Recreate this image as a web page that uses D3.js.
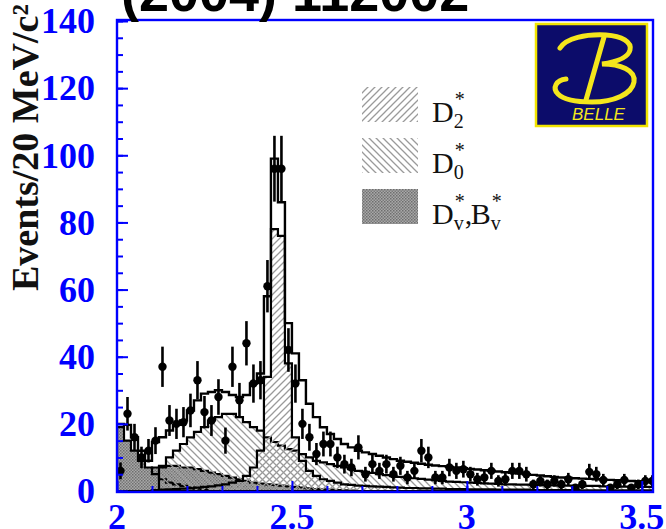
<!DOCTYPE html>
<html>
<head>
<meta charset="utf-8">
<script src="https://cdn.jsdelivr.net/npm/d3@7"></script>
<style>
  html, body { margin: 0; padding: 0; background: #fff; }
  svg { display: block; }
</style>
</head>
<body>
<svg id="chart" width="666" height="529"></svg>
<script>
// Binning: 20 MeV bins starting at 2.0 GeV
const binStart = 2.0;
const binWidth = 0.02;

// Observed events per bin
const counts = [6, 23, 16, 10, 12, 15, 37, 21, 20, 20.5, 24, 33, 23.5, 21, 28, 15, 37, 27, 44, 32,
  33, 61, 96, 96, 42, 32, 20, 16, 11, 14, 14, 10, 8, 7, 13, 5, 8, 6, 8, 5,
  7.5, 4, 6, 12, 10, 4, 4, 7, 6, 6.5, 5, 3.5, 4, 6, 3, 3.5, 6, 6, 5, 2,
  3, 2, 3, 2, 3.5, 1, 2, 5.7, 5, 3.3, 1, 2, 3.3, 1, 2, 3, 3];
// Statistical errors per bin
const errors = [2.5, 5, 4, 3.2, 3.5, 4, 6, 4.6, 4.5, 4.5, 5, 5.7, 4.8, 4.6, 5.3, 3.9, 6, 5.2, 6.6, 5.7,
  5.7, 7.8, 9.8, 9.8, 6.5, 5.7, 4.5, 4, 3.3, 3.7, 3.7, 3.2, 2.8, 2.6, 3.6, 2.2, 2.8, 2.4, 2.8, 2.2,
  2.7, 2, 2.4, 3.5, 3.2, 2, 2, 2.6, 2.4, 2.5, 2.2, 1.9, 2, 2.4, 1.7, 1.9, 2.4, 2.4, 2.2, 1.4,
  1.7, 1.4, 1.7, 1.4, 1.9, 1, 1.4, 2.4, 2.2, 1.8, 1, 1.4, 1.8, 1, 1.4, 1.7, 1.7];

// Total fit
const totalFit = [20, 19.7, 16, 12, 9, 14.6, 16, 18, 19.7, 21, 24, 27, 29, 29.5, 30, 29.5, 28.6, 28, 28.6, 32,
  35, 58, 99, 86, 50, 41, 33, 26, 22, 19, 17, 15.5, 14, 13, 12, 11.5, 11, 10.5, 10, 9.5,
  9, 8.7, 8.4, 8.1, 7.8, 7.6, 7.4, 7.2, 7, 6.8, 6.6, 6.4, 6.2, 6, 5.8, 5.6, 5.4, 5.2, 5, 4.8,
  4.6, 4.4, 4.2, 4, 3.9, 3.8, 3.7, 3.6, 3.5, 3.4, 3.3, 3.2, 3.1, 3, 2.9, 2.8, 2.7];

// D2* component
const d2Comp = [0, 0, 0, 0, 0, 0.3, 0.4, 0.5, 0.6, 0.7, 0.8, 1, 1.2, 1.4, 1.7, 2, 2.5, 3, 4.5, 7,
  12, 34, 78, 76, 38, 16, 9, 6, 4.5, 3.5, 3, 2.5, 2, 1.8, 1.6, 1.5, 1.4, 1.3, 1.2, 1.1,
  1, 0.9, 0.9, 0.8, 0.8, 0.7, 0.7, 0.6, 0.6, 0.6, 0.5, 0.5, 0.5, 0.5, 0.4, 0.4, 0.4, 0.4, 0.4, 0.3,
  0.3, 0.3, 0.3, 0.3, 0.3, 0.3, 0.2, 0.2, 0.2, 0.2, 0.2, 0.2, 0.2, 0.2, 0.2, 0.2, 0.2];

// D0* component
const d0Comp = [0, 0, 0, 0, 0, 0, 7, 10, 12, 14, 16, 17.6, 19, 21, 22, 23, 23, 22, 20.5, 19,
  18, 16, 14.6, 13.5, 12.5, 12, 11, 10, 9, 8.5, 8, 7.5, 7, 6.5, 6, 5.7, 5.4, 5, 4.7, 4.4,
  4.2, 4, 3.8, 3.6, 3.4, 3.2, 3, 2.8, 2.7, 2.6, 2.5, 2.4, 2.3, 2.2, 2.1, 2, 2, 1.9, 1.9, 1.8,
  1.8, 1.7, 1.7, 1.6, 1.6, 1.6, 1.5, 1.5, 1.5, 1.4, 1.4, 1.4, 1.3, 1.3, 1.3, 1.2, 1.2];

// D*v (threshold) component
const dvComp = [19, 15, 12, 9, 7, 5, 3.5, 2.5, 2, 1.5, 1, 0.7, 0.5, 0, 0, 0, 0, 0, 0, 0,
  0, 0, 0, 0, 0, 0, 0, 0, 0, 0, 0, 0, 0, 0, 0, 0, 0, 0, 0, 0,
  0, 0, 0, 0, 0, 0, 0, 0, 0, 0, 0, 0, 0, 0, 0, 0, 0, 0, 0, 0,
  0, 0, 0, 0, 0, 0, 0, 0, 0, 0, 0, 0, 0, 0, 0, 0, 0];

// B*v component
const bvComp = [1, 3, 4.5, 5.5, 6.5, 7, 7.5, 7.5, 7.5, 7, 7, 6.5, 6, 5.5, 5, 4.5, 4, 3.5, 3, 2.5,
  2.2, 2, 1.8, 1.6, 1.4, 1.2, 1, 0.8, 0.6, 0.5, 0.4, 0.3, 0.2, 0.1, 0, 0, 0, 0, 0, 0,
  0, 0, 0, 0, 0, 0, 0, 0, 0, 0, 0, 0, 0, 0, 0, 0, 0, 0, 0, 0,
  0, 0, 0, 0, 0, 0, 0, 0, 0, 0, 0, 0, 0, 0, 0, 0, 0];

const xTickLabels = ["2", "2.5", "3", "3.5"];
const yTickLabels = ["0", "20", "40", "60", "80", "100", "120", "140"];

const legendItems = [
  { key: "d2", syms: [{ main: "D", sub: "2", sup: "*" }] },
  { key: "d0", syms: [{ main: "D", sub: "0", sup: "*" }] },
  { key: "dv", syms: [{ main: "D", sub: "v", sup: "*" }, { main: "B", sub: "v", sup: "*" }] }
];

const svg = d3.select("#chart");
const plot = { left: 117, right: 653, top: 20, bottom: 492 };

const x = d3.scaleLinear().domain([2.0, 3.532]).range([plot.left, plot.right]);
const y = d3.scaleLinear().domain([0, 140]).range([491, 21]);

const blue = "#0000ff";

// ---------- patterns ----------
const defs = svg.append("defs");
function hatch(id, dir, color) {
  const p = defs.append("pattern").attr("id", id).attr("patternUnits", "userSpaceOnUse")
    .attr("width", 7).attr("height", 7);
  const d = dir > 0 ? "M-1,1 L1,-1 M0,7 L7,0 M6,8 L8,6" : "M-1,6 L1,8 M0,0 L7,7 M6,-1 L8,1";
  p.append("path").attr("d", d).attr("stroke", color).attr("stroke-width", 1.3).attr("fill", "none");
}
hatch("hatchD2", 1, "#9a9a9a");
hatch("hatchD0", -1, "#9a9a9a");
const grey = defs.append("pattern").attr("id", "greyFill").attr("patternUnits", "userSpaceOnUse")
  .attr("width", 3).attr("height", 3);
grey.append("rect").attr("width", 3).attr("height", 3).attr("fill", "#a8a8a8");
grey.append("rect").attr("width", 1.5).attr("height", 1.5).attr("fill", "#6e6e6e");
grey.append("rect").attr("x", 1.5).attr("y", 1.5).attr("width", 1.5).attr("height", 1.5).attr("fill", "#7a7a7a");

const clip = defs.append("clipPath").attr("id", "plotClip");
clip.append("rect").attr("x", plot.left).attr("y", plot.top)
  .attr("width", plot.right - plot.left).attr("height", plot.bottom - plot.top);

// ---------- histogram helpers ----------
function stepPath(values, closed) {
  const pts = [];
  values.forEach((v, i) => {
    const x0 = x(binStart + i * binWidth), x1 = x(binStart + (i + 1) * binWidth);
    pts.push([x0, y(v)], [x1, y(v)]);
  });
  const line = d3.line();
  if (!closed) return line(pts);
  const first = pts[0][0], last = pts[pts.length - 1][0];
  return line([[first, y(0)], ...pts, [last, y(0)]]) + "Z";
}

const g = svg.append("g").attr("clip-path", "url(#plotClip)");

// shaded components
[[bvComp, "url(#greyFill)"], [dvComp, "url(#greyFill)"],
 [d0Comp, "url(#hatchD0)"], [d2Comp, "url(#hatchD2)"]].forEach(([vals, fill]) => {
  g.append("path").attr("d", stepPath(vals, true)).attr("fill", fill)
    .attr("stroke", "#000").attr("stroke-width", 2.2);
});
// total fit
g.append("path").attr("d", stepPath(totalFit, false)).attr("fill", "none")
  .attr("stroke", "#000").attr("stroke-width", 2.4);

// data points
const pts = counts.map((c, i) => ({ x: binStart + (i + 0.5) * binWidth, c, e: errors[i] }));
g.selectAll("line.err").data(pts).join("line").attr("class", "err")
  .attr("x1", d => x(d.x)).attr("x2", d => x(d.x))
  .attr("y1", d => y(d.c + d.e)).attr("y2", d => y(Math.max(0, d.c - d.e)))
  .attr("stroke", "#000").attr("stroke-width", 2.6);
g.selectAll("circle.pt").data(pts).join("circle").attr("class", "pt")
  .attr("cx", d => x(d.x)).attr("cy", d => y(d.c)).attr("r", 4.2).attr("fill", "#000");

// ---------- frame and axes ----------
svg.append("rect").attr("x", plot.left).attr("y", plot.top)
  .attr("width", plot.right - plot.left).attr("height", plot.bottom - plot.top)
  .attr("fill", "none").attr("stroke", blue).attr("stroke-width", 2.4);

function inwardTicks(axis, values, size, translate) {
  const a = svg.append("g").attr("transform", translate)
    .call(axis.tickValues(values).tickSize(-size).tickFormat(""));
  a.select(".domain").remove();
  a.selectAll("line").attr("stroke", blue).attr("stroke-width", 2);
}
inwardTicks(d3.axisBottom(x), d3.range(21, 36).map(v => v / 10), 6, `translate(0,${plot.bottom})`);
inwardTicks(d3.axisBottom(x), xTickLabels.map(Number), 11, `translate(0,${plot.bottom})`);
inwardTicks(d3.axisLeft(y), d3.range(0, 141, 5), 6, `translate(${plot.left},0)`);
inwardTicks(d3.axisLeft(y), yTickLabels.map(Number), 11, `translate(${plot.left},0)`);

const serif = "'Liberation Serif', 'Times New Roman', serif";
svg.selectAll("text.ylab").data(yTickLabels).join("text").attr("class", "ylab")
  .attr("x", 95).attr("y", d => y(+d)).attr("dy", "0.34em")
  .attr("text-anchor", "end").attr("font-family", serif).attr("font-weight", "bold")
  .attr("font-size", 36).attr("fill", blue).text(d => d);
svg.selectAll("text.xlab").data(xTickLabels).join("text").attr("class", "xlab")
  .attr("x", d => x(+d)).attr("y", 529)
  .attr("text-anchor", "middle").attr("font-family", serif).attr("font-weight", "bold")
  .attr("font-size", 36).attr("fill", blue).text(d => d);

// y axis title
svg.append("text").attr("transform", "translate(38,291) rotate(-90)")
  .attr("font-family", serif).attr("font-weight", "bold").attr("font-size", 38)
  .attr("fill", "#111").text("Events/20 MeV/c²");

// heading (reference)
svg.append("text").attr("x", 121).attr("y", 11)
  .attr("font-family", "'Liberation Sans', Arial, sans-serif").attr("font-weight", "bold")
  .attr("font-size", 54).attr("fill", "#000").text("(2004) 112002");

// ---------- legend ----------
const legend = svg.append("g").attr("font-family", serif).attr("fill", "#111");
const fills = { d2: "url(#hatchD2)", d0: "url(#hatchD0)", dv: "url(#greyFill)" };
legendItems.forEach((it, i) => {
  const top = 87 + i * 51;
  const base = top + 35;
  legend.append("rect").attr("x", 362).attr("y", top).attr("width", 56).attr("height", 35)
    .attr("fill", fills[it.key]);
  let cx = 432;
  it.syms.forEach((s, j) => {
    if (j > 0) {
      legend.append("text").attr("x", cx).attr("y", base).attr("font-size", 30).text(",");
      cx += 6;
    }
    const main = legend.append("text").attr("x", cx).attr("y", base).attr("font-size", 30).text(s.main);
    const w = main.node().getComputedTextLength();
    legend.append("text").attr("x", cx + w).attr("y", base + 6).attr("font-size", 20).text(s.sub);
    legend.append("text").attr("x", cx + w + 1).attr("y", base - 16).attr("font-size", 20).text(s.sup);
    cx += w + 11;
  });
});

// ---------- Belle logo ----------
const logo = svg.append("g").attr("transform", "translate(536,24)");
logo.append("rect").attr("width", 111).attr("height", 102)
  .attr("fill", "#0c0c6a").attr("stroke", "#f2e400").attr("stroke-width", 2.5);
const yellow = "#f4e61c";
logo.append("path")
  .attr("d", "M24,24 C30,14 50,10 70,11 C86,12 96,18 94,26 C92,34 80,38 66,40 " +
             "C84,40 100,46 98,58 C96,70 78,78 56,78 C40,78 28,76 22,70 C16,64 20,56 30,55")
  .attr("fill", "none").attr("stroke", yellow).attr("stroke-width", 5).attr("stroke-linecap", "round");
logo.append("path").attr("d", "M68,13 L50,76")
  .attr("fill", "none").attr("stroke", yellow).attr("stroke-width", 5).attr("stroke-linecap", "round");
logo.append("text").attr("x", 36).attr("y", 96)
  .attr("font-family", "'Liberation Sans', Arial, sans-serif").attr("font-style", "italic")
  .attr("font-size", 17).attr("fill", yellow).text("BELLE");
</script>
</body>
</html>
